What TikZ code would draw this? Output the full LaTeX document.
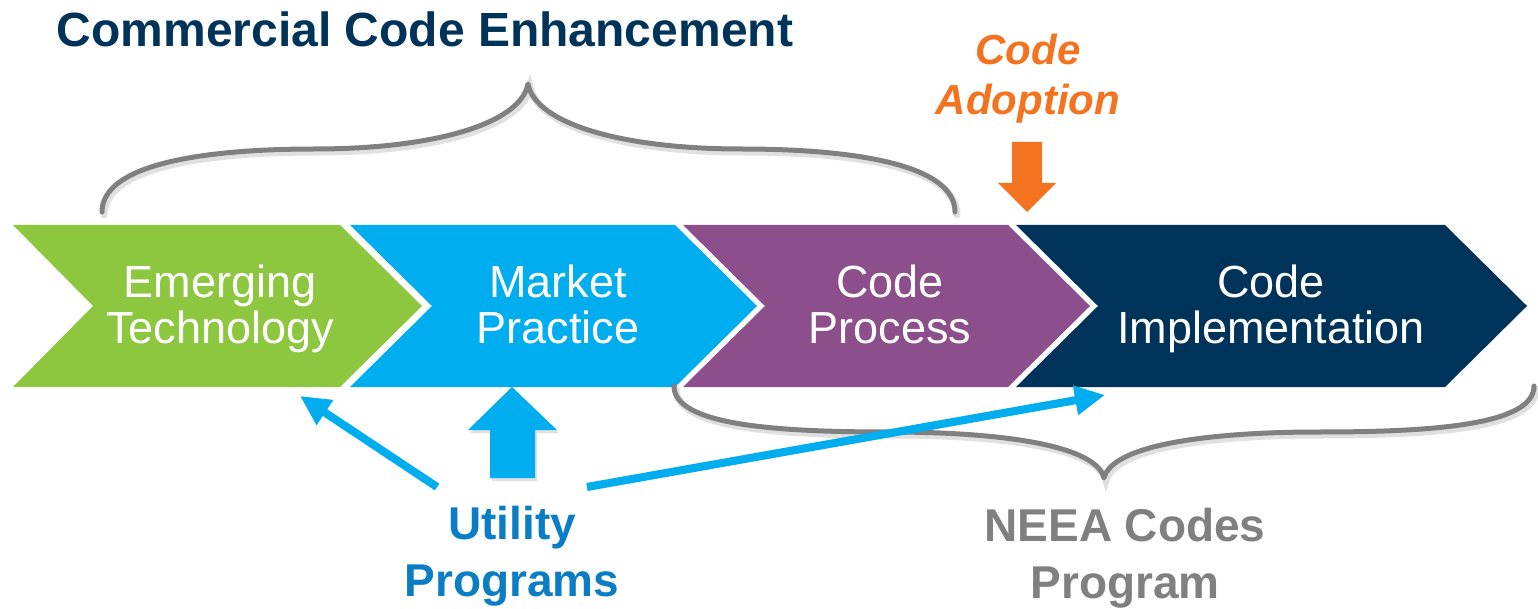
\documentclass[tikz,border=0pt]{standalone}
\usepackage{fontspec}
\setmainfont{Liberation Sans}
\usetikzlibrary{arrows.meta}
\definecolor{cgreen}{HTML}{8DC63F}
\definecolor{cblue}{HTML}{00AEEF}
\definecolor{cpurple}{HTML}{8C4F8B}
\definecolor{cnavy}{HTML}{003359}
\definecolor{corange}{HTML}{F47321}
\definecolor{cutil}{HTML}{0B7DC4}
\definecolor{cgray}{HTML}{808080}
\tikzset{
  chevtext/.style={text=white, align=center, inner sep=0pt, font=\fontsize{45}{46}\selectfont},
  bracestyle/.style={draw=cgray, line width=5pt, line cap=round, line join=round},
  braceshadow/.style={draw=black, opacity=0.12, line width=7pt, line cap=round},
  thinarrow/.style={draw=cblue, line width=8pt, -{Triangle[length=30pt,width=28pt]}},
  shadowarrow/.style={draw=black, opacity=0.12, line width=8pt, -{Triangle[length=30pt,width=28pt]}},
  bigtext/.style={align=center, inner sep=0pt, font=\fontsize{46}{57}\selectfont\bfseries},
}
\begin{document}
\begin{tikzpicture}[x=1pt,y=-1pt]
\useasboundingbox (0,0) rectangle (1538,609);

% chevrons
\fill[cgreen]  (13,225) -- (340,225) -- (422,306) -- (340,387) -- (13,387) -- (93,306) -- cycle;
\fill[cblue]   (350,225) -- (675,225) -- (757,306) -- (675,387) -- (350,387) -- (432,306) -- cycle;
\fill[cpurple] (683,225) -- (1008,225) -- (1090,306) -- (1008,387) -- (683,387) -- (765,306) -- cycle;
\fill[cnavy]   (1016,225) -- (1445,225) -- (1527,306) -- (1445,387) -- (1016,387) -- (1098,306) -- cycle;

\node[chevtext, anchor=base] (et) at (220,343) {Emerging\\Technology};
\node[chevtext, anchor=base] (mp) at (558,343) {Market\\Practice};
\node[chevtext, anchor=base] (cp) at (890,343) {Code\\Process};
\node[chevtext, anchor=base] (ci) at (1271,343) {Code\\Implementation};

% title
\node[anchor=base, inner sep=0pt, text=cnavy, font=\fontsize{48}{50}\selectfont\bfseries] (title) at (425,47) {Commercial Code Enhancement};

% top brace
\draw[braceshadow, shift={(2,3)}] (102,212) .. controls (102,165) and (200,149) .. (315,149)
  .. controls (430,149) and (520,125) .. (528,84)
  .. controls (536,125) and (626,149) .. (741,149)
  .. controls (856,149) and (955,165) .. (955,212);
\draw[bracestyle] (102,212) .. controls (102,165) and (200,149) .. (315,149)
  .. controls (430,149) and (520,125) .. (528,84)
  .. controls (536,125) and (626,149) .. (741,149)
  .. controls (856,149) and (955,165) .. (955,212);

% bottom brace
\draw[braceshadow, shift={(2,3)}] (674,386) .. controls (674,425) and (775,432) .. (889,432)
  .. controls (1000,432) and (1096,445) .. (1104,478)
  .. controls (1112,445) and (1208,432) .. (1319,432)
  .. controls (1433,432) and (1534,425) .. (1534,386);
\draw[bracestyle] (674,386) .. controls (674,425) and (775,432) .. (889,432)
  .. controls (1000,432) and (1096,445) .. (1104,478)
  .. controls (1112,445) and (1208,432) .. (1319,432)
  .. controls (1433,432) and (1534,425) .. (1534,386);

% code adoption
\node[anchor=base, align=center, inner sep=0pt, text=corange, font=\fontsize{42}{50}\selectfont\bfseries\itshape] (ca) at (1028,115) {Code\\Adoption};
\fill[corange] (1012,142) -- (1042,142) -- (1042,183) -- (1056,183) -- (1027,212) -- (998,183) -- (1012,183) -- cycle;

% utility programs / NEEA
\node[bigtext, anchor=base, text=cutil] (up) at (512,596) {Utility\\Programs};
\node[bigtext, anchor=base, text=cgray] (ncp) at (1125,598) {NEEA Codes\\Program};

\coordinate (a1s) at (437,487);
\coordinate (a1e) at (300,396);
\coordinate (a2s) at (587,487);
\coordinate (a2e) at (1105,395);
\draw[shadowarrow, shift={(2,3)}] (a1s) -- (a1e);
\draw[shadowarrow, shift={(2,3)}] (a2s) -- (a2e);
\draw[thinarrow] (a1s) -- (a1e);
\draw[thinarrow] (a2s) -- (a2e);

\fill[black, opacity=0.12, shift={(2,3)}] (490,478) -- (535,478) -- (535,430) -- (557,430) -- (512,387) -- (468,430) -- (490,430) -- cycle;
\fill[cblue] (490,478) -- (535,478) -- (535,430) -- (557,430) -- (512,387) -- (468,430) -- (490,430) -- cycle;
\end{tikzpicture}
\end{document}
